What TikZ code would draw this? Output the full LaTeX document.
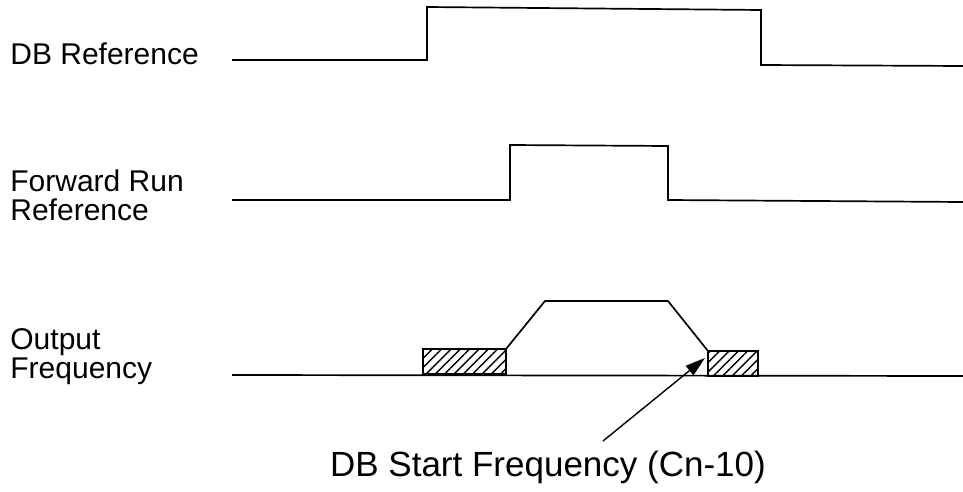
\documentclass[tikz,border=0pt]{standalone}
\usepackage{fontspec}
\setmainfont{Liberation Sans}
\usetikzlibrary{arrows.meta,patterns.meta}

\begin{document}
\begin{tikzpicture}[
  x=0.5pt, y=-0.5pt,
  lbl/.style={anchor=north west, align=left, inner sep=0pt, font=\fontsize{15}{14.5}\selectfont},
  wave/.style={line width=0.85pt},
  dbzone/.style={draw, line width=0.85pt, pattern={Lines[angle=45,distance=3.3pt,line width=0.7pt]}},
  arrow/.style={-{Triangle[length=10pt,width=6pt]}, line width=0.7pt}
]
\useasboundingbox (0,0) rectangle (963,492);

% signal names
\node[lbl] (dbref) at (10,42) {DB Reference};
\node[lbl] (fwdref) at (10,169) {Forward Run\\Reference};
\node[lbl] (outfreq) at (10,328) {Output\\Frequency};

% DB reference
\draw[wave] (232,60) -- (427,60) -- (427,7) -- (761,10) -- (761,65) -- (963,66);

% forward run reference
\draw[wave] (232,200) -- (510,200) -- (510,145) -- (668,146) -- (668,200) -- (963,202);

% output frequency
\draw[wave] (232,375) -- (963,376);
\draw[dbzone] (423,349) rectangle (506,374);
\draw[dbzone] (708,351) rectangle (758,376);
\draw[wave] (506,349) -- (545,301) -- (668,301) -- (708,351);

% DB start frequency
\node[font=\fontsize{17.5}{20}\selectfont, inner sep=0pt, anchor=north] (startlbl) at (548,451) {DB Start Frequency (Cn-10)};
\coordinate (dbstart) at (705,358);
\draw[arrow] ([xshift=27.5pt,yshift=5pt]startlbl.north) -- (dbstart);
\end{tikzpicture}
\end{document}
